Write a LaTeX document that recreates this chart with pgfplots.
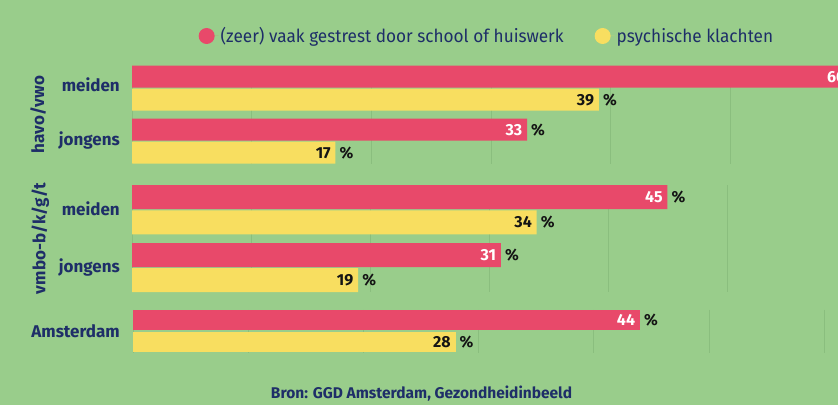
\documentclass[border=0pt]{standalone}
\usepackage{pgfplots}
\pgfplotsset{compat=1.18}
\usepackage{fontspec}
\setmainfont{Fira Sans}
\newfontfamily\legfont{Fira Sans}[FakeStretch=0.955]
\definecolor{bg}{RGB}{153,205,139}
\definecolor{barred}{RGB}{232,73,106}
\definecolor{baryel}{RGB}{248,222,96}
\definecolor{navy}{RGB}{30,46,104}
\definecolor{gridc}{RGB}{138,190,126}
\definecolor{valblack}{RGB}{20,20,20}
\newcommand{\catfont}{\fontsize{17}{20}\selectfont\bfseries}
\newcommand{\valfont}{\fontsize{16}{18}\selectfont\bfseries}
\pgfplotsset{
  panel/.style={
    scale only axis, width=706pt, xmin=0,
    y dir=reverse, clip=false,
    /pgf/number format/assume math mode=true,
    axis line style={draw=none}, major tick length=0pt,
    xtick={0,10,...,60}, xticklabels={}, xmajorgrids,
    grid style={gridc, line width=0.8pt},
    yticklabel style={font=\catfont, text=navy, inner sep=0pt, anchor=base east},
    ylabel style={font=\catfont, text=navy, anchor=center},
    xbar,
    point meta=x,
    nodes near coords align=horizontal,
    every node near coord/.append style={anchor=west, inner sep=0pt, font=\valfont, text=valblack},
  },
  redbar/.style={fill=barred, draw=none, bar shift=0pt,
    nodes near coords={\llap{\textcolor{white}{\pgfmathprintnumber{\pgfplotspointmeta}}\hspace{5pt}}\hspace{4pt}\%}},
  yelbar/.style={fill=baryel, draw=none, bar shift=0pt,
    nodes near coords={\llap{\pgfmathprintnumber{\pgfplotspointmeta}\hspace{5pt}}\hspace{4pt}\%}},
}
\begin{document}
\begin{tikzpicture}[x=1pt,y=1pt]
\useasboundingbox (0,0) rectangle (838,405);
\clip (0,0) rectangle (838,405);
\fill[bg] (0,0) rectangle (838,405);
% havo/vwo panel
\begin{axis}[panel, at={(132pt,241.3pt)}, anchor=south west,
  height=98pt, xmax=58.98, ymin=65.7, ymax=163.7,
  ytick={92,145}, yticklabels={meiden,jongens},
  yticklabel style={xshift=-12pt},
  ylabel={havo/vwo},
  ylabel style={at={(axis description cs:-0.133,0.5)}},
  legend style={at={(axis description cs:0.5027,1.303)}, anchor=center,
    draw=none, fill=none, font=\legfont\fontsize{18}{21}\selectfont, text=navy,
    /tikz/every even column/.append style={column sep=29pt}},
  legend columns=2,
  legend image code/.code={\fill[#1] (0pt,0pt) circle (8pt); \path (8pt,0pt) -- (12pt,0pt);},
  ]
\addplot[redbar, bar width=22] coordinates {(60,76.7) (33,129.6)};
\addlegendentry{(zeer) vaak gestrest door school of huiswerk}
\addplot[yelbar, bar width=22] coordinates {(39,99.6) (17,152.7)};
\addlegendentry{psychische klachten}
\end{axis}
% vmbo panel
\begin{axis}[panel, at={(132pt,113pt)}, anchor=south west,
  height=107pt, xmax=59.33, ymin=185, ymax=292,
  ytick={215,272}, yticklabels={meiden,jongens},
  yticklabel style={xshift=-12pt},
  ylabel={vmbo-b/k/g/t},
  ylabel style={at={(axis description cs:-0.130,0.5)}},
  ]
\addplot[redbar, bar width=24] coordinates {(45,197.2) (31,255)};
\addplot[yelbar, bar width=24] coordinates {(34,222.3) (19,280)};
\end{axis}
% Amsterdam panel
\begin{axis}[panel, at={(133pt,52.5pt)}, anchor=south west,
  width=705pt, height=42.5pt, xmax=61.2, ymin=310, ymax=352.5,
  ytick={337}, yticklabels={Amsterdam},
  yticklabel style={xshift=-13pt},
  ]
\addplot[redbar, bar width=20.5] coordinates {(44,320)};
\addplot[yelbar, bar width=20.5] coordinates {(28,342)};
\end{axis}
\node[anchor=base, font=\fontsize{15.5}{18}\selectfont\bfseries, text=navy] at (421.5,7) {Bron: GGD Amsterdam, Gezondheidinbeeld};
\end{tikzpicture}
\end{document}
